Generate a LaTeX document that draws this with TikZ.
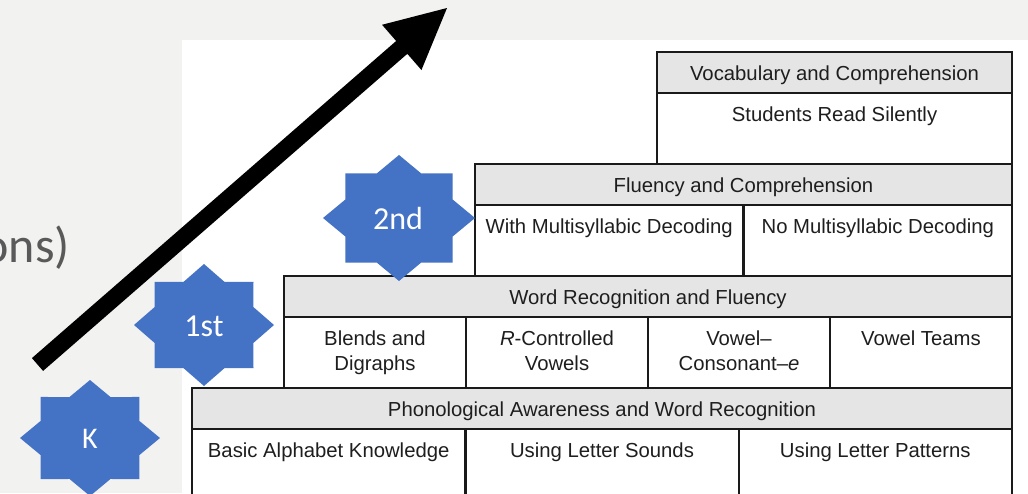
\documentclass[tikz,border=0pt]{standalone}
\usepackage{fontspec}
\setmainfont{Liberation Sans}
\newfontfamily\calib{Carlito}
\usetikzlibrary{calc}
\definecolor{bg}{RGB}{242,242,241}
\definecolor{starblue}{RGB}{68,114,196}
\definecolor{hdrgray}{RGB}{229,229,229}
\definecolor{linec}{RGB}{26,26,26}
\definecolor{txt}{RGB}{30,30,30}
\definecolor{bigtxt}{RGB}{89,89,89}
\newcommand\twolines[2]{\begin{tabular}[t]{@{}c@{}}#1\\#2\end{tabular}}
\newcommand\octstar[3]{\fill[starblue] ([shift={(0:#2 and #3)}]#1) \foreach \a in {0,45,...,315} { -- ([shift={(\a+22.5:0.765*#2 and 0.765*#3)}]#1) -- ([shift={(\a+45:#2 and #3)}]#1) } -- cycle;}
\tikzset{
  hdr/.style={draw=linec, line width=2.4pt, fill=hdrgray},
  cellbox/.style={draw=linec, line width=2.4pt, fill=white},
  divl/.style={draw=linec, line width=2.4pt},
  lbl/.style={font=\fontsize{20.3}{25}\selectfont, text=txt, inner sep=0pt, anchor=base},
  startxt/.style={font=\calib\fontsize{32}{38}\selectfont, text=white, inner sep=0pt},
}
\begin{document}
\begin{tikzpicture}[x=1pt,y=-1pt]
\useasboundingbox (0,0) rectangle (1028,493);
\clip (0,0) rectangle (1028,493);
\fill[bg] (0,0) rectangle (1028,493);
\fill[white] (182,40) rectangle (1028,493);

% Row D
\draw[hdr] (192,388) rectangle (1012,429);
\draw[cellbox] (192,429) rectangle (1012,510);
\draw[divl] (465.3,429) -- (465.3,510);
\draw[divl] (738.7,429) -- (738.7,510);
% Row C
\draw[hdr] (284,276) rectangle (1012,317);
\draw[cellbox] (284,317) rectangle (1012,388);
\draw[divl] (466,317) -- (466,388);
\draw[divl] (648,317) -- (648,388);
\draw[divl] (830,317) -- (830,388);
% Row B
\draw[hdr] (475,164) rectangle (1012,205);
\draw[cellbox] (475,205) rectangle (1012,276);
\draw[divl] (743.5,205) -- (743.5,276);
% Row A
\draw[hdr] (657,52) rectangle (1012,93);
\draw[cellbox] (657,93) rectangle (1012,164);

% texts
\node[lbl] (vc) at (834.5,80) {Vocabulary and Comprehension};
\node[lbl] (srs) at (834.5,121) {Students Read Silently};
\node[lbl] (fc) at (743.5,192) {Fluency and Comprehension};
\node[lbl] (wmd) at (609.2,233) {With Multisyllabic Decoding};
\node[lbl] (nmd) at (877.8,233) {No Multisyllabic Decoding};
\node[lbl] (wrf) at (648,304) {Word Recognition and Fluency};
\node[lbl] (bd) at (375,345) {\twolines{Blends and}{Digraphs}};
\node[lbl] (rcv) at (557,345) {\twolines{\textit{R}-Controlled}{Vowels}};
\node[lbl] (vce) at (739,345) {\twolines{Vowel–}{Consonant–\textit{e}}};
\node[lbl] (vt) at (921,345) {Vowel Teams};
\node[lbl] (pawr) at (602,416) {Phonological Awareness and Word Recognition};
\node[lbl] (bak) at (328.7,457) {Basic Alphabet Knowledge};
\node[lbl] (uls) at (602,457) {Using Letter Sounds};
\node[lbl] (ulp) at (875.3,457) {Using Letter Patterns};

% cut-off title text
\node[anchor=base east, font=\calib\fontsize{50}{60}\selectfont, text=bigtxt, inner sep=0pt] (cut) at (70,262) {ons)};

% arrow
\coordinate (aS) at (37.5,364.5);
\coordinate (aE) at (447,8);
\coordinate (aB) at ($(aE)!60pt!(aS)$);
\fill[black] ($(aS)!8.5pt!90:(aE)$) -- ($(aB)!8.5pt!90:(aE)$) -- ($(aB)!30pt!90:(aE)$) -- (aE)
  -- ($(aB)!30pt!-90:(aE)$) -- ($(aB)!8.5pt!-90:(aE)$) -- ($(aS)!8.5pt!-90:(aE)$) -- cycle;

% stars
\coordinate (cK) at (90,438);
\coordinate (c1) at (204,325);
\coordinate (c2) at (399,218);
\octstar{cK}{70}{58}
\octstar{c1}{70}{61}
\octstar{c2}{76}{63}
\node[startxt, font=\calib\fontsize{30}{36}\selectfont] (k) at (90,439) {K};
\node[startxt] (first) at (204,326) {1st};
\node[startxt] (second) at (398,218) {2nd};
\end{tikzpicture}
\end{document}
